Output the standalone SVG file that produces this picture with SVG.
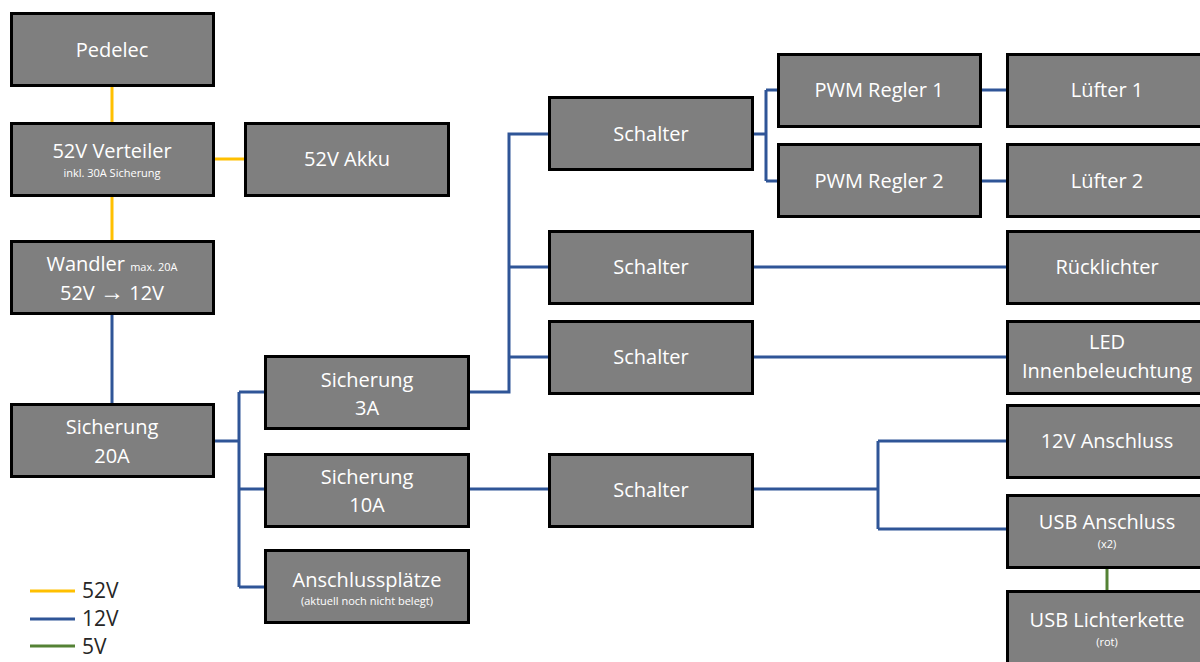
<svg xmlns="http://www.w3.org/2000/svg" width="1200" height="662" viewBox="0 0 1200 662">
<style>
.b{fill:#7f7f7f;stroke:#000;stroke-width:3}
.t{font-family:"Open Sans","Liberation Sans",sans-serif;font-size:20px;fill:#fff;text-anchor:middle}
.s{font-family:"Open Sans","Liberation Sans",sans-serif;font-size:11px;fill:#fff;text-anchor:middle}
.y{stroke:#ffc000;stroke-width:3;fill:none}
.u{stroke:#2f5597;stroke-width:3;fill:none}
.g{stroke:#548235;stroke-width:3;fill:none}
.l{font-family:"Open Sans","Liberation Sans",sans-serif;font-size:21px;fill:#262626}
</style>
<rect width="1200" height="662" fill="#fff"/>
<g id="connectors">
<path class="y" d="M112 86V123M112 196V240M214 159H244"/>
<path class="u" d="M112 315V403M214 441H239M239 392V587M239 392H265M239 489H265M239 587H265"/>
<path class="u" d="M469 392H509V134H549M509 267H549M509 357H549"/>
<path class="u" d="M753 134H766M766 90V181M766 90H777M766 181H777M981 90H1006M981 181H1006"/>
<path class="u" d="M753 267H1006M753 357H1006"/>
<path class="u" d="M469 489H549M753 489H878M878 441V529M878 441H1006M878 529H1006"/>
<path class="g" d="M1107 567V591"/>
</g>
<g id="pedelec"><rect class="b" x="11.5" y="13.5" width="202" height="72"/><text class="t" x="112" y="57">Pedelec</text></g>
<g id="verteiler"><rect class="b" x="11.5" y="123.5" width="202" height="72"/><text class="t" x="112" y="158">52V Verteiler</text><text class="s" x="112" y="177">inkl. 30A Sicherung</text></g>
<g id="akku"><rect class="b" x="245.5" y="123.5" width="203" height="72"/><text class="t" x="347" y="166">52V Akku</text></g>
<g id="wandler"><rect class="b" x="11.5" y="241.5" width="202" height="72"/><text class="t" x="112" y="271">Wandler <tspan font-size="11px">max. 20A</tspan></text><text class="t" x="112" y="300">52V <tspan font-size="24px">→</tspan> 12V</text></g>
<g id="sich20"><rect class="b" x="11.5" y="404.5" width="202" height="72"/><text class="t" x="112" y="434">Sicherung</text><text class="t" x="112" y="463">20A</text></g>
<g id="sich3"><rect class="b" x="265.5" y="356.5" width="203" height="72"/><text class="t" x="367" y="387">Sicherung</text><text class="t" x="367" y="415">3A</text></g>
<g id="sich10"><rect class="b" x="265.5" y="454.5" width="203" height="72"/><text class="t" x="367" y="484">Sicherung</text><text class="t" x="367" y="512">10A</text></g>
<g id="anschlussplaetze"><rect class="b" x="265.5" y="550.5" width="203" height="72"/><text class="t" x="367" y="587">Anschlussplätze</text><text class="s" x="367" y="605">(aktuell noch nicht belegt)</text></g>
<g id="schalter1"><rect class="b" x="549.5" y="97.5" width="203" height="72"/><text class="t" x="651" y="141">Schalter</text></g>
<g id="schalter2"><rect class="b" x="549.5" y="231.5" width="203" height="72"/><text class="t" x="651" y="274">Schalter</text></g>
<g id="schalter3"><rect class="b" x="549.5" y="321.5" width="203" height="72"/><text class="t" x="651" y="364">Schalter</text></g>
<g id="schalter4"><rect class="b" x="549.5" y="454.5" width="203" height="72"/><text class="t" x="651" y="497">Schalter</text></g>
<g id="pwm1"><rect class="b" x="778.5" y="54.5" width="202" height="72"/><text class="t" x="879" y="97">PWM Regler 1</text></g>
<g id="pwm2"><rect class="b" x="778.5" y="144.5" width="202" height="72"/><text class="t" x="879" y="188">PWM Regler 2</text></g>
<g id="luefter1"><rect class="b" x="1007.5" y="54.5" width="202" height="72"/><text class="t" x="1107" y="97">Lüfter 1</text></g>
<g id="luefter2"><rect class="b" x="1007.5" y="144.5" width="202" height="72"/><text class="t" x="1107" y="188">Lüfter 2</text></g>
<g id="ruecklichter"><rect class="b" x="1007.5" y="231.5" width="202" height="72"/><text class="t" x="1107" y="274">Rücklichter</text></g>
<g id="led"><rect class="b" x="1007.5" y="321.5" width="202" height="72"/><text class="t" x="1107" y="349">LED</text><text class="t" x="1107" y="378">Innenbeleuchtung</text></g>
<g id="anschluss12"><rect class="b" x="1007.5" y="405.5" width="202" height="72"/><text class="t" x="1107" y="448">12V Anschluss</text></g>
<g id="usb"><rect class="b" x="1007.5" y="495.5" width="202" height="72"/><text class="t" x="1107" y="529">USB Anschluss</text><text class="s" x="1107" y="548">(x2)</text></g>
<g id="lichterkette"><rect class="b" x="1007.5" y="591.5" width="202" height="74"/><text class="t" x="1107" y="627">USB Lichterkette</text><text class="s" x="1107" y="646">(rot)</text></g>
<g id="legend">
<line class="y" x1="30" y1="591" x2="75" y2="591" stroke-width="4"/>
<line class="u" x1="30" y1="619" x2="75" y2="619" stroke-width="4"/>
<line class="g" x1="30" y1="646" x2="75" y2="646" stroke-width="4"/>
<text class="l" x="82" y="598">52V</text>
<text class="l" x="82" y="626">12V</text>
<text class="l" x="82" y="654">5V</text>
</g>
</svg>
